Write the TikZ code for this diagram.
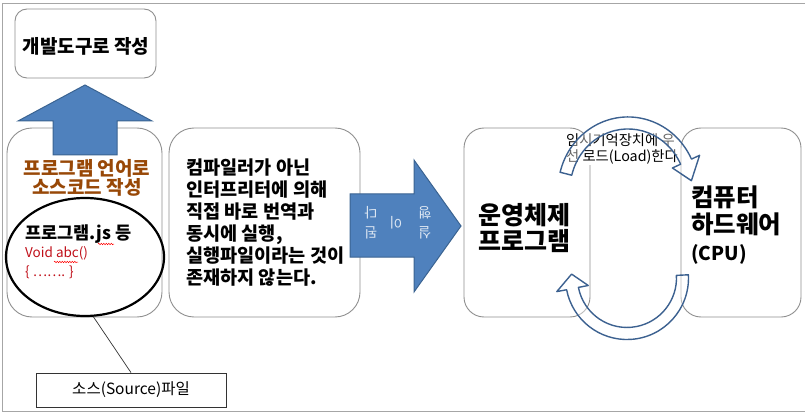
\documentclass[tikz,border=0pt]{standalone}
\usepackage{fontspec}
\setmainfont{Noto Sans CJK KR}
\usetikzlibrary{shapes.geometric,decorations.pathmorphing}
\definecolor{arrowfill}{HTML}{4F81BD}
\definecolor{arrowline}{HTML}{3A6391}
\definecolor{ringline}{HTML}{3C6190}
\definecolor{boxline}{HTML}{8F8F8F}
\definecolor{framegray}{HTML}{A6A6A6}
\definecolor{langbrown}{HTML}{984807}
\definecolor{codered}{HTML}{C0101A}
\definecolor{arrowtext}{HTML}{DCE6F2}
\begin{document}
\begin{tikzpicture}[x=1pt,y=-1pt,
  roundbox/.style={draw=boxline, line width=0.9pt, rectangle, inner sep=0pt},
  blockarrow/.style={fill=arrowfill, draw=arrowline, line width=1pt, line join=miter},
  ringarrow/.style={draw=ringline, line width=1.4pt, fill=white, fill opacity=0.4, line join=round},
  arrowglyph/.style={text=arrowtext, font=\fontsize{14}{14}\selectfont, rotate=180, inner sep=0pt},
  squiggle/.style={draw=red, line width=0.5pt, decorate, decoration={snake, amplitude=0.7pt, segment length=2.5pt}}]
\useasboundingbox (0,0) rectangle (808,414);
% frame
\draw[framegray, line width=1pt] (2,411) -- (2,4) -- (805,4);
\draw[framegray, line width=1pt] (2,411) -- (805,411);

% top box
\node[roundbox, rounded corners=12pt, minimum width=141pt, minimum height=69pt] (devbox) at (85.5,43.5) {};
\node[font=\fontsize{19}{21}\selectfont\bfseries, inner sep=0pt] (devtxt) at (86,46) {개발도구로 작성};

% left box
\node[roundbox, rounded corners=25pt, minimum width=155pt, minimum height=189pt] (srcbox) at (84.5,222.5) {};
% up arrow
\draw[blockarrow] (85,85) -- (152,121) -- (117,121) -- (117,155) -- (53,155) -- (53,121) -- (18,121) -- cycle;
% orange text
\node[font=\fontsize{19}{19.5}\selectfont\bfseries, text=langbrown, align=center, inner sep=0pt] (langtxt) at (87,178) {프로그램 언어로\\소스코드 작성};

% ellipse
\node[ellipse, draw=black, line width=2.2pt, minimum width=158pt, minimum height=118pt, inner sep=0pt] (srcell) at (85,257) {};
\node[anchor=west, font=\fontsize{17.5}{18}\selectfont\bfseries, inner sep=0pt] (jsline) at (25,234) {프로그램.js 등};
\node[anchor=west, font=\fontsize{13.5}{18}\selectfont, text=codered, inner sep=0pt] (voidline) at (25,253) {Void abc()};
\node[anchor=west, font=\fontsize{13.5}{18}\selectfont, text=codered, inner sep=0pt] (braceline) at (25,272) {\{ ……. \}};
\draw[squiggle] (98,244) -- (114,244);
\draw[squiggle] (54,262) -- (78,262);

% callout
\node[draw=black!80, line width=0.8pt, minimum width=190pt, minimum height=34pt, inner sep=0pt, font=\fontsize{15.5}{17}\selectfont] (srcfile) at (131,390) {소스(Source)파일};
\draw[black!80, line width=0.7pt] (srcell.-82) -- (srcfile.north);

% middle box
\node[roundbox, rounded corners=25pt, minimum width=191pt, minimum height=189pt] (interpbox) at (264.5,222.5) {};
\node[anchor=west, align=left, font=\fontsize{18.6}{22}\selectfont\bfseries, inner sep=0pt] (interptxt) at (186,223) {컴파일러가 아닌\\인터프리터에 의해\\직접 바로 번역과\\동시에 실행,\\실행파일이라는 것이\\존재하지 않는다.};

% right arrow
\draw[blockarrow] (350,194) -- (414,194) -- (414,160) -- (461,226) -- (414,292) -- (414,257) -- (350,257) -- cycle;
\node[arrowglyph] (g1) at (425,213) {행};
\node[arrowglyph] (g2) at (425,233) {실};
\node[arrowglyph] (g3) at (396,223) {이};
\node[arrowglyph] (g4) at (371,213) {다};
\node[arrowglyph] (g5) at (371,233) {된};

% right boxes
\node[roundbox, rounded corners=20pt, minimum width=126pt, minimum height=189pt] (osbox) at (527,222.5) {};
\node[roundbox, rounded corners=20pt, minimum width=120pt, minimum height=189pt] (hwbox) at (741,222.5) {};
\node[anchor=west, align=left, font=\fontsize{25}{26}\selectfont\bfseries, inner sep=0pt] (ostxt) at (478,228) {운영체제\\프로그램};
\node[anchor=west, align=left, inner sep=0pt, font=\fontsize{24.5}{27}\selectfont\bfseries] (hwtxt) at (691,225) {컴퓨터\\하드웨어\\{\fontsize{19}{27}\selectfont (CPU)}};

% load label
\node[anchor=west, align=left, fill=white, inner sep=1pt, font=\fontsize{14.3}{16}\selectfont] (loadtxt) at (565,149) {임시기억장치에 우\\선 로드(Load)한다};

% curved arrows
\draw[ringarrow] (560.1,172.3) arc[start angle=-166, end angle=-25, x radius=70, y radius=73] -- (699.6,155.3) -- (691.4,180.7) -- (672.4,168.0) -- (680.6,164.2) arc[start angle=-25, end angle=-166, x radius=58, y radius=61] -- cycle;
\draw[ringarrow] (688.4,274.8) arc[start angle=-3, end angle=169, radius=61.5] -- (556.8,291.6) -- (571.6,274.1) -- (588.2,285.5) -- (578.4,287.4) arc[start angle=169, end angle=-3, radius=49.5] -- cycle;
\end{tikzpicture}
\end{document}
